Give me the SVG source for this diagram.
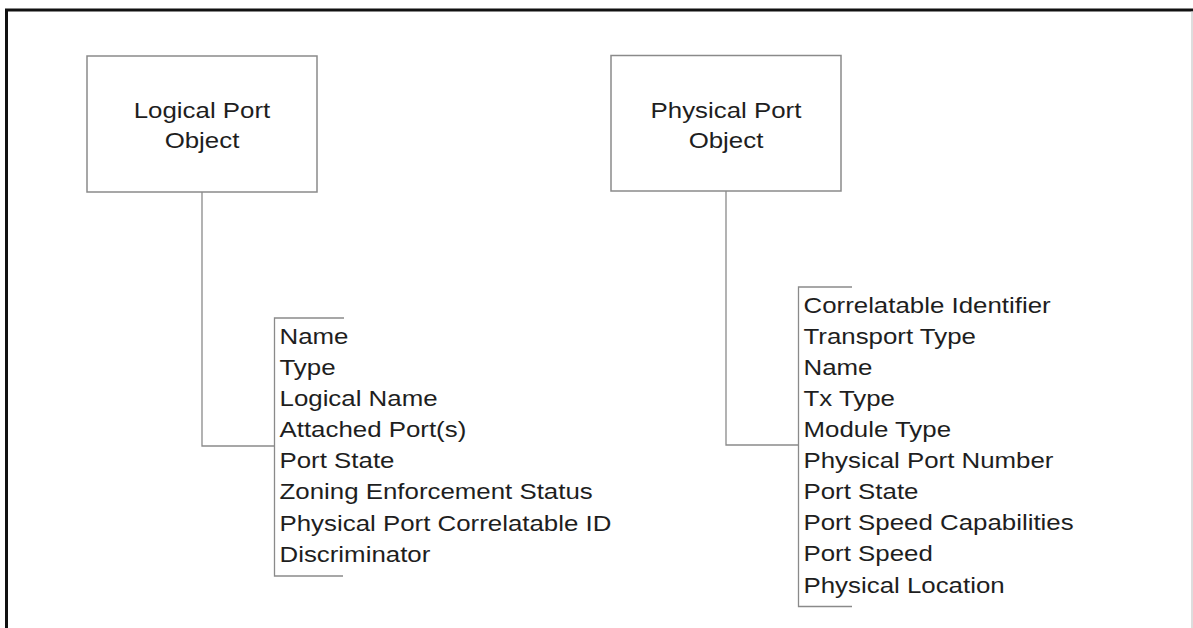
<svg xmlns="http://www.w3.org/2000/svg" width="1193" height="628" viewBox="0 0 1193 628">
<style>
.box{fill:#fff;stroke:#8a8a8a;stroke-width:1.5}
.ln{fill:none;stroke:#8a8a8a;stroke-width:1.3}
.t{font-family:"Liberation Sans",Arial,sans-serif;font-size:22px;fill:#1e1e1e}
.c{text-anchor:middle}
</style>
<rect width="1193" height="628" fill="#fff"/>
<path d="M6.5,628 V10 H1193" fill="none" stroke="#111" stroke-width="3"/>
<line x1="1192" y1="11" x2="1192" y2="628" stroke="#bbb" stroke-width="1"/>
<g id="connectors">
<path class="ln" d="M202,192 V446 H274.5"/>
<path class="ln" d="M726,191 V445 H798.5"/>
</g>
<g id="logical-port-object">
<rect class="box" x="87" y="56" width="230" height="136"/>
<g transform="translate(202,0) scale(1.175,1)">
<text class="t c" x="0" y="118">Logical Port</text>
<text class="t c" x="0" y="148">Object</text>
</g>
</g>
<g id="physical-port-object">
<rect class="box" x="611" y="55.5" width="230" height="135.5"/>
<g transform="translate(726,0) scale(1.175,1)">
<text class="t c" x="0" y="118">Physical Port</text>
<text class="t c" x="0" y="148">Object</text>
</g>
</g>
<g id="logical-attributes">
<path class="ln" d="M344,318 H274.5 V576 H343"/>
<g transform="translate(279.5,0) scale(1.175,1)">
<text class="t" x="0" y="344">Name</text>
<text class="t" x="0" y="375.1">Type</text>
<text class="t" x="0" y="406.2">Logical Name</text>
<text class="t" x="0" y="437.3">Attached Port(s)</text>
<text class="t" x="0" y="468.4">Port State</text>
<text class="t" x="0" y="499.5">Zoning Enforcement Status</text>
<text class="t" x="0" y="530.6">Physical Port Correlatable ID</text>
<text class="t" x="0" y="561.7">Discriminator</text>
</g>
</g>
<g id="physical-attributes">
<path class="ln" d="M852,287 H798.5 V606.5 H852"/>
<g transform="translate(803.5,0) scale(1.175,1)">
<text class="t" x="0" y="312.7">Correlatable Identifier</text>
<text class="t" x="0" y="343.8">Transport Type</text>
<text class="t" x="0" y="374.9">Name</text>
<text class="t" x="0" y="406">Tx Type</text>
<text class="t" x="0" y="437.1">Module Type</text>
<text class="t" x="0" y="468.2">Physical Port Number</text>
<text class="t" x="0" y="499.3">Port State</text>
<text class="t" x="0" y="530.4">Port Speed Capabilities</text>
<text class="t" x="0" y="561.5">Port Speed</text>
<text class="t" x="0" y="592.6">Physical Location</text>
</g>
</g>
</svg>
